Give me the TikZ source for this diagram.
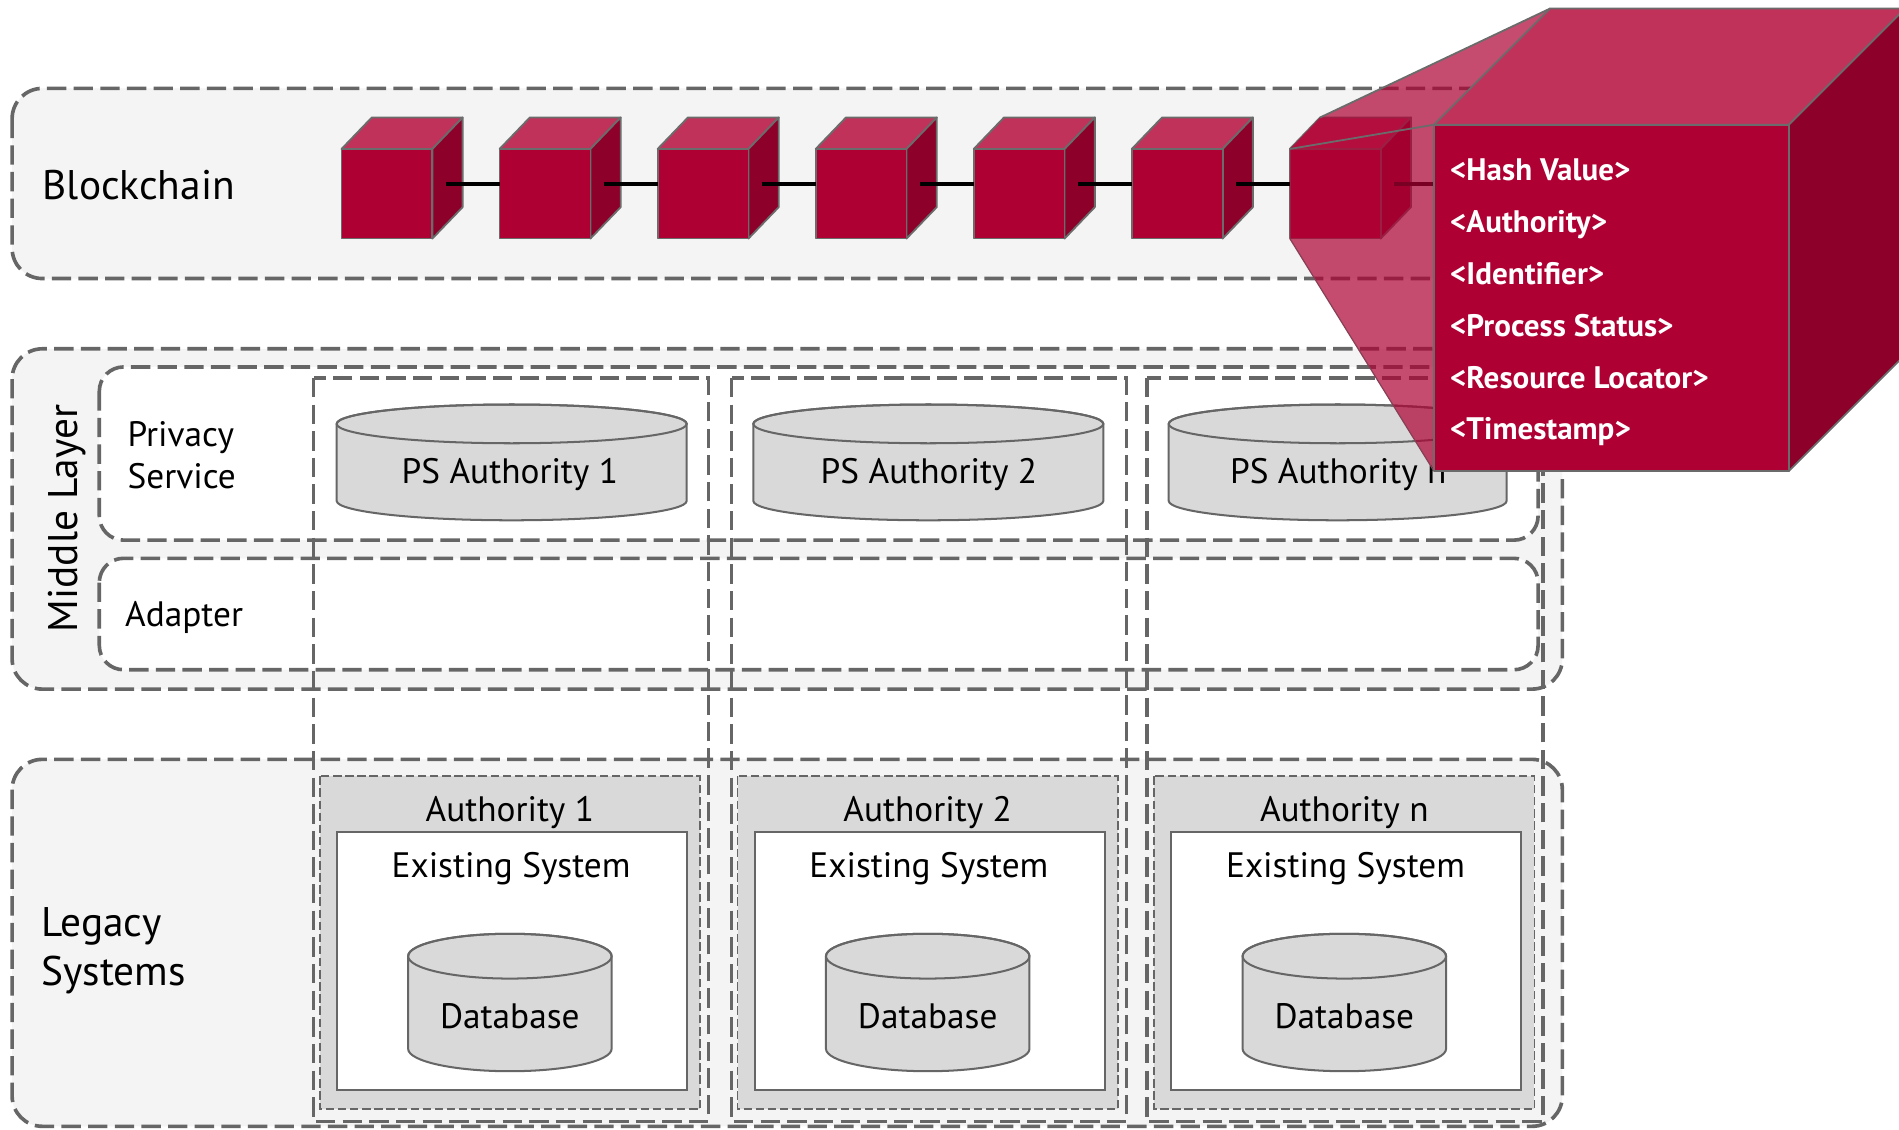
\documentclass[tikz,border=0pt]{standalone}
\usepackage{fontspec}
\setmainfont{PT Sans}
\definecolor{bandfill}{HTML}{F4F4F4}
\definecolor{dashgray}{HTML}{666666}
\definecolor{boxgray}{HTML}{D9D9D9}
\definecolor{cubefront}{HTML}{AE0033}
\definecolor{cubetop}{HTML}{C0325A}
\definecolor{cubeside}{HTML}{8C0029}
\definecolor{cubeedge}{HTML}{6B6B6B}
\tikzset{
  band/.style={fill=bandfill, draw=dashgray, line width=1.8pt, dash pattern=on 9.6pt off 3.6pt, rounded corners=15pt},
  innerbox/.style={fill=white, draw=dashgray, line width=1.8pt, dash pattern=on 9.6pt off 3.6pt, rounded corners=12pt},
  colbox/.style={draw=dashgray, line width=1.8pt, dash pattern=on 9.6pt off 3.6pt},
  authbox/.style={fill=boxgray, draw=dashgray, line width=0.9pt, dash pattern=on 4.2pt off 1.8pt},
  sysbox/.style={fill=white, draw=dashgray, line width=1pt},
  cyl/.style={fill=boxgray, draw=dashgray, line width=1pt},
  lbl/.style={font=\fontsize{17.5}{21}\selectfont, inner sep=0pt},
  biglbl/.style={font=\fontsize{20.5}{24}\selectfont, inner sep=0pt},
  hashlbl/.style={font=\bfseries\fontsize{15.4}{18}\selectfont, text=white, inner sep=0pt, anchor=base west},
  facetop/.style={fill=cubetop, draw=cubeedge, line width=0.9pt, line join=round},
  faceside/.style={fill=cubeside, draw=cubeedge, line width=0.9pt, line join=round},
  facefront/.style={fill=cubefront, draw=cubeedge, line width=0.9pt, line join=round},
  chainlink/.style={draw=black, line width=1.8pt},
}
% x y w h dx dy
\newcommand\blockcube[6]{%
  \path[facetop] (#1,#2) -- ++(#5,-#6) -- ++(#3,0) -- ++(-#5,#6) -- cycle;
  \path[faceside] (#1+#3,#2) -- ++(#5,-#6) -- ++(0,#4) -- ++(-#5,#6) -- cycle;
  \path[facefront] (#1,#2) rectangle ++(#3,#4);
}
% cx, top y, rx, ry, bottom y
\newcommand\cylinder[5]{%
  \path[cyl] (#1-#3,#2+#4) -- (#1-#3,#5-#4)
     arc[start angle=180, end angle=0, x radius=#3, y radius=#4]
     -- (#1+#3,#2+#4)
     arc[start angle=0, end angle=-180, x radius=#3, y radius=#4] -- cycle;
  \draw[cyl, fill=none] (#1,#2+#4) ellipse[x radius=#3, y radius=#4];
}
\begin{document}
\begin{tikzpicture}[x=0.6pt, y=-0.6pt]
\useasboundingbox (0,0) rectangle (1568,933);
\clip (0,0) rectangle (1568,933);
\fill[white] (0,0) rectangle (1568,933);

% Bands
\path[band] (10,73) rectangle (1290,230);
\node[biglbl, anchor=west] (bc) at (35,153) {Blockchain};

\path[band] (10,288) rectangle (1290,569);
\path[innerbox] (82,303) rectangle (1270,446);
\path[innerbox] (82,461) rectangle (1270,553);
\node[biglbl, rotate=90] (ml) at (55,428) {Middle Layer};
\node[lbl, anchor=west, align=left] (ps) at (105,376) {Privacy\\Service};
\node[lbl, anchor=west] (ad) at (103,510) {Adapter};

\path[band] (10,627) rectangle (1290,930);
\node[biglbl, anchor=west, align=left] (ls) at (34,785) {Legacy\\Systems};

% Columns
\draw[colbox] (259,312) rectangle (585,926);
\draw[colbox] (604,312) rectangle (930,926);
\draw[colbox] (947,312) rectangle (1274,926);

% Legacy authorities
\foreach \off/\nm [count=\k] in {0/1, 345/2, 689/n} {
  \path[authbox] (264+\off,641) rectangle (578+\off,916);
  \path[sysbox] (278+\off,687) rectangle (567+\off,900);
  \node[lbl] (auth\k) at (421+\off,671) {Authority \nm};
  \node[lbl] (sys\k) at (422+\off,717) {Existing System};
  \cylinder{421+\off}{771}{84}{18.5}{884.5}
  \node[lbl] (db\k) at (421+\off,839) {Database};
}

% PS cylinders
\cylinder{422.5}{334}{144.5}{16}{429.6}
\node[lbl] (ps1) at (421,392) {PS Authority 1};
\cylinder{766.5}{334}{144.5}{16}{429.6}
\node[lbl] (ps2) at (767,392) {PS Authority 2};
\cylinder{1104.5}{334}{139.5}{16}{429.6}
\node[lbl] (psn) at (1105,392) {PS Authority n};

% Small cubes of the chain
\foreach \i in {0,...,6} {
  \pgfmathsetmacro\cx{282+130.5*\i}
  \blockcube{\cx}{123}{75}{74}{25}{26}
  \coordinate (cL\i) at (\cx,152);
  \coordinate (cR\i) at (\cx+86,152);
}
\coordinate (bigL) at (1184,152);
\foreach \i/\j in {0/1,1/2,2/3,3/4,4/5,5/6} {
  \draw[chainlink] (cR\i) -- (cL\j);
}
\draw[chainlink] (cR6) -- (bigL);

% Magnifying projection
\fill[cubefront, opacity=0.7] (1065,123) -- (1090,97) -- (1280,7) -- (1184,103) -- (1184,389) -- (1065,197) -- cycle;
\draw[cubeedge, line width=0.9pt, line join=round] (1090,97) -- (1280,7);
\draw[cubeedge, line width=0.9pt] (1065,123) -- (1184,103);
\draw[cubeedge!60!cubefront, line width=0.6pt] (1065,197) -- (1184,389);

% Big cube
\blockcube{1184}{103}{293}{286}{96}{96}
\node[hashlbl] (h1) at (1197,149) {<Hash Value>};
\node[hashlbl] (h2) at (1197,192) {<Authority>};
\node[hashlbl] (h3) at (1197,235) {<Identifier>};
\node[hashlbl] (h4) at (1197,278) {<Process Status>};
\node[hashlbl] (h5) at (1197,321) {<Resource Locator>};
\node[hashlbl] (h6) at (1197,363) {<Timestamp>};
\end{tikzpicture}
\end{document}
